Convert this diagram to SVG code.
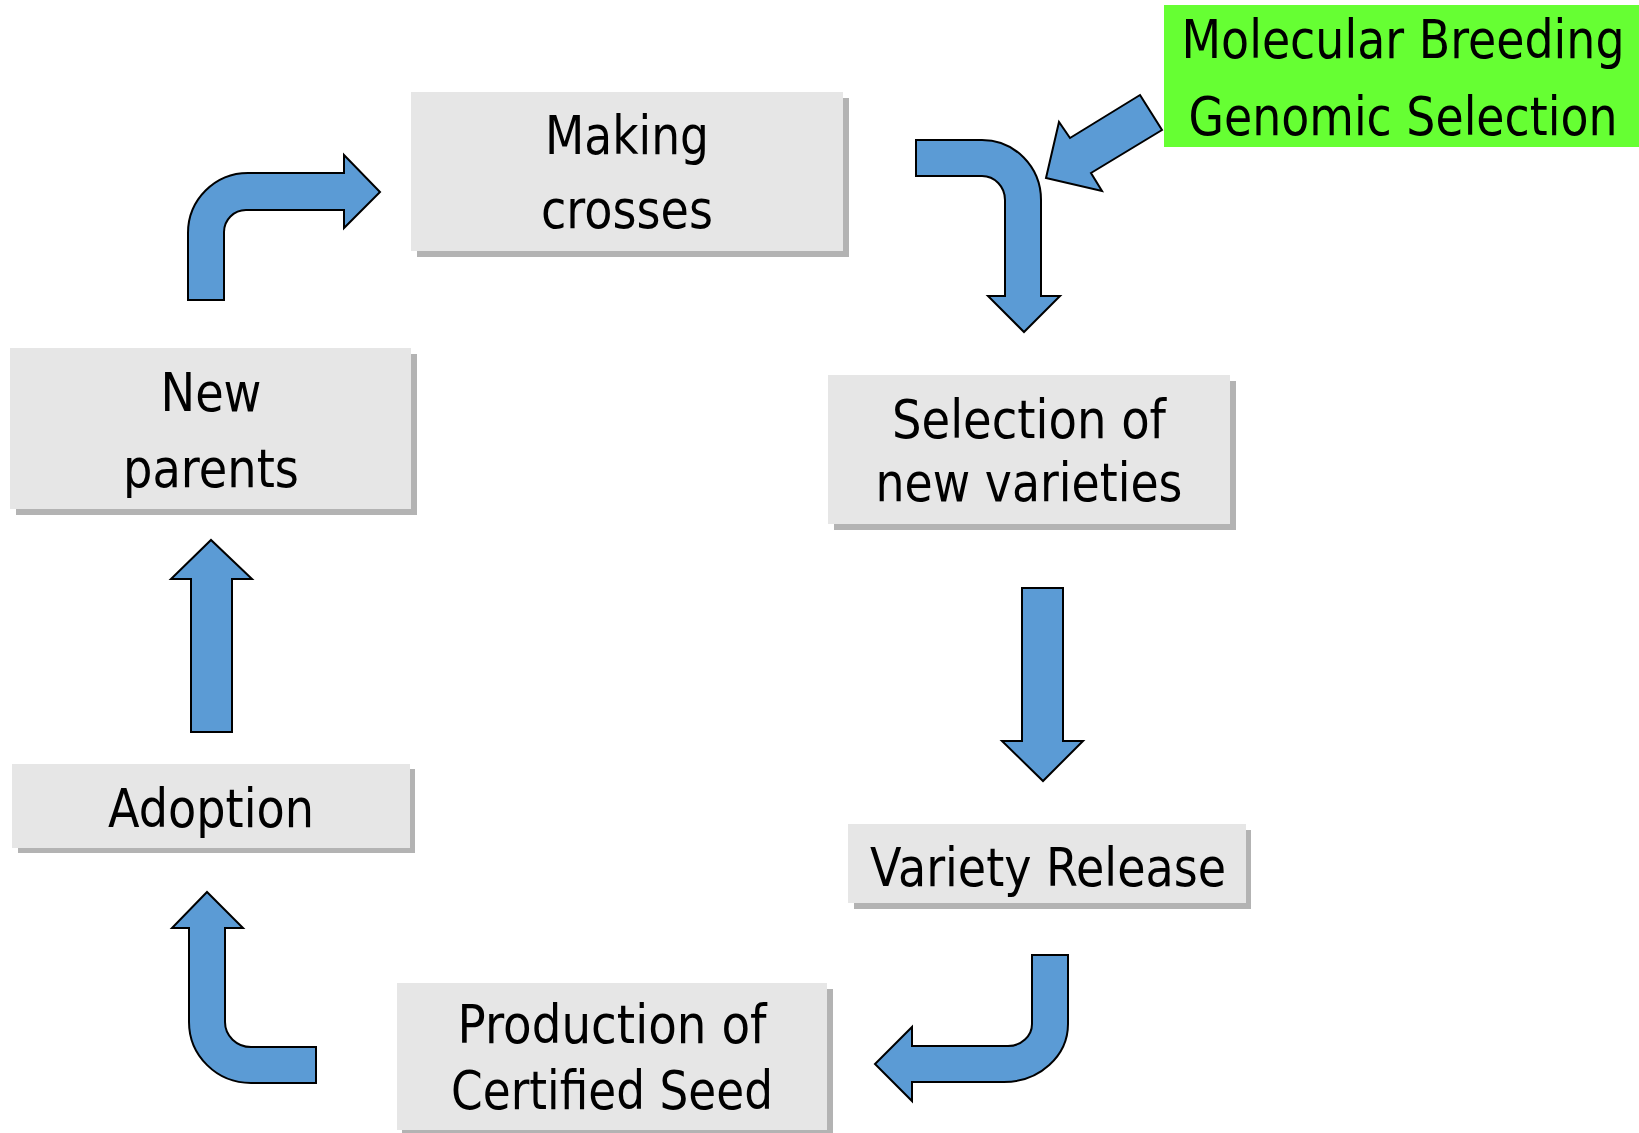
<svg xmlns="http://www.w3.org/2000/svg" width="1639" height="1133" viewBox="0 0 1639 1133">
<style>
.box{fill:#e6e6e6}
.shadow{fill:#b3b3b3}
.t{font-family:"DejaVu Sans","Liberation Sans",sans-serif;font-size:53px;fill:#000;text-anchor:middle}
.arr{fill:#5b9bd5;stroke:#000;stroke-width:2;stroke-linejoin:miter}
</style>
<rect width="1639" height="1133" fill="#fff"/>
<g id="connectors">
<path class="arr" d="M188,300 L188,233 A60,60 0 0 1 248,173 L344,173 L344,155 L380,192 L344,228 L344,210 L246,210 A22,22 0 0 0 224,232 L224,300 Z"/>
<path class="arr" d="M916,140 L982,140 A59,60 0 0 1 1041,200 L1041,296 L1060,296 L1024,332 L988,296 L1005,296 L1005,200 A23,24 0 0 0 982,176 L916,176 Z"/>
<polygon class="arr" points="1140,95 1162,130 1091,173 1102,191 1046,178 1059,122 1070,138"/>
<polygon class="arr" points="1022,588 1063,588 1063,741 1083,741 1043,781 1002,741 1022,741"/>
<polygon class="arr" points="191,732 232,732 232,579 252,579 211,540 171,579 191,579"/>
<path class="arr" d="M1032,955 L1068,955 L1068,1024 A64,58 0 0 1 1004,1082 L912,1082 L912,1101 L875,1064 L912,1027 L912,1046 L1008,1046 A24,22 0 0 0 1032,1024 Z"/>
<path class="arr" d="M189,928 L172,928 L207,892 L243,928 L225,928 L225,1022 A26,25 0 0 0 251,1047 L316,1047 L316,1083 L251,1083 A62,61 0 0 1 189,1022 Z"/>
</g>
<g id="making-crosses">
<rect class="shadow" x="417" y="98" width="432" height="159"/>
<rect class="box" x="411" y="92" width="432" height="159"/>
<text class="t" x="627" y="154" textLength="164" lengthAdjust="spacingAndGlyphs">Making</text>
<text class="t" x="627" y="228" textLength="172" lengthAdjust="spacingAndGlyphs">crosses</text>
</g>
<g id="molecular-breeding">
<rect x="1164" y="5" width="475" height="142" fill="#66ff33"/>
<g transform="scale(0.8635,1)">
<text class="t" x="1624.8" y="58" textLength="513" lengthAdjust="spacingAndGlyphs">Molecular Breeding</text>
<text class="t" x="1624.8" y="135" textLength="496.8" lengthAdjust="spacingAndGlyphs">Genomic Selection</text>
</g>
</g>
<g id="selection">
<rect class="shadow" x="834" y="381" width="402" height="149"/>
<rect class="box" x="828" y="375" width="402" height="149"/>
<text class="t" x="1029" y="438" textLength="274" lengthAdjust="spacingAndGlyphs">Selection of</text>
<text class="t" x="1029" y="501" textLength="307" lengthAdjust="spacingAndGlyphs">new varieties</text>
</g>
<g id="new-parents">
<rect class="shadow" x="16" y="354" width="401" height="161"/>
<rect class="box" x="10" y="348" width="401" height="161"/>
<text class="t" x="211" y="411" textLength="101" lengthAdjust="spacingAndGlyphs">New</text>
<text class="t" x="211" y="487" textLength="176" lengthAdjust="spacingAndGlyphs">parents</text>
</g>
<g id="adoption">
<rect class="shadow" x="18" y="769" width="397" height="84"/>
<rect class="box" x="12" y="764" width="398" height="84"/>
<text class="t" x="211" y="827" textLength="206" lengthAdjust="spacingAndGlyphs">Adoption</text>
</g>
<g id="variety-release">
<rect class="shadow" x="854" y="830" width="397" height="79"/>
<rect class="box" x="848" y="824" width="398" height="79"/>
<text class="t" x="1048" y="886" textLength="356" lengthAdjust="spacingAndGlyphs">Variety Release</text>
</g>
<g id="production">
<rect class="shadow" x="402" y="989" width="431" height="144"/>
<rect class="box" x="397" y="983" width="430" height="147"/>
<text class="t" x="612" y="1043" textLength="309" lengthAdjust="spacingAndGlyphs">Production of</text>
<text class="t" x="612" y="1109" textLength="322" lengthAdjust="spacingAndGlyphs">Certified Seed</text>
</g>
</svg>
